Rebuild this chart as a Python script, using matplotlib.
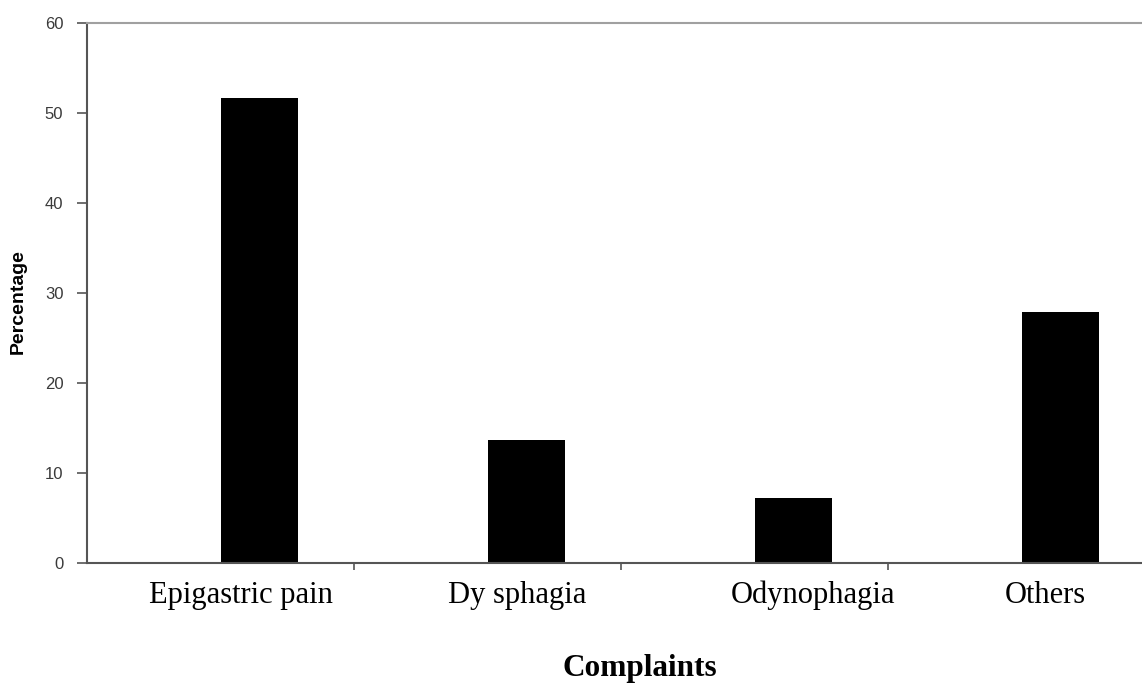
import matplotlib.pyplot as plt
import numpy as np

# data
complaints = ['Epigastric pain', 'Dy sphagia', 'Odynophagia', 'Others']
percentage = [51.7, 13.7, 7.2, 27.9]
yticks = [0, 10, 20, 30, 40, 50, 60]

# where the category names sit (in category units, they are not exactly centred)
label_pos = [0.577, 1.61, 2.72, 3.59]

fig = plt.figure(figsize=(11.42, 6.84), dpi=100)
# axes spans left spine (x=87px) to past the right edge, y=0 at 563px, y=60 at 23px
ax = fig.add_axes([87 / 1142, 1 - 563 / 684, 1055 / 1142, 540 / 684])

x = np.arange(len(complaints))
bar_w = 0.29
ax.bar(x + 0.5, percentage, width=bar_w, align='edge', color='black')

ax.set_xlim(0, 1055 / 267)
ax.set_ylim(0, 60)

ax.set_yticks(yticks)
ax.set_yticklabels([str(v) for v in yticks], family='Liberation Sans',
                   fontsize=12, color='#3a3a3a')
ax.tick_params(axis='y', direction='out', length=7, width=1.2, color='#555555', pad=10)

# ticks on category boundaries, names written under the bars on a common baseline
ax.set_xticks(np.arange(1, len(complaints)))
ax.set_xticklabels([])
ax.tick_params(axis='x', direction='out', length=5, width=1.2, color='#555555')
for pos, name in zip(label_pos, complaints):
    ax.text(pos, -40 / 540, name, transform=ax.get_xaxis_transform(),
            family='Liberation Serif', fontsize=22, ha='center', va='baseline')

for s in ['left', 'bottom']:
    ax.spines[s].set_color('#555555')
    ax.spines[s].set_linewidth(1.5)
ax.spines['right'].set_visible(False)
ax.spines['top'].set_color('#a0a0a0')
ax.spines['top'].set_linewidth(1.5)

fig.text(18 / 1142, 1 - 302 / 684, 'Percentage', family='Liberation Sans', fontsize=14,
         fontweight='bold', rotation=90, ha='center', va='center')
fig.text(640 / 1142, 1 - 676 / 684, 'Complaints', family='Liberation Serif',
         fontsize=22.5, fontweight='bold', ha='center', va='baseline')

fig.savefig('out.png', dpi=100)
